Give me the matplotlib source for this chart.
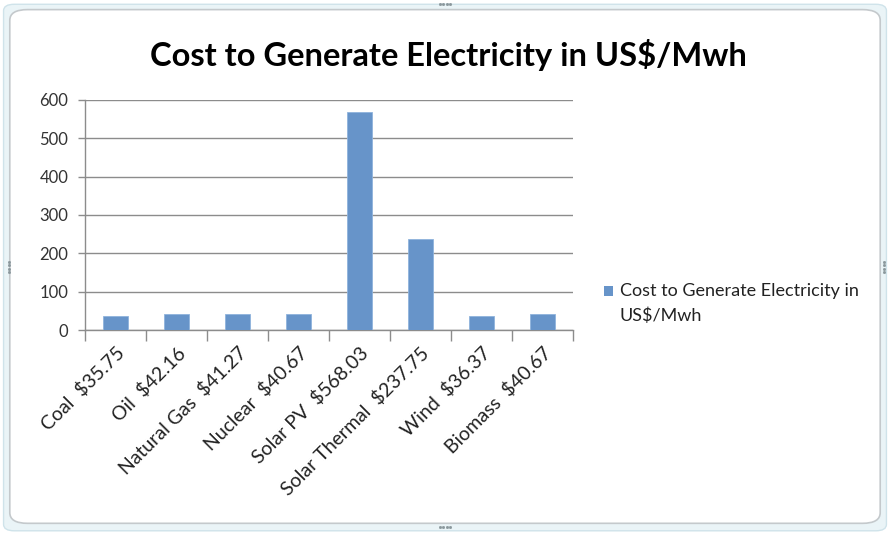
import matplotlib.pyplot as plt
from matplotlib.patches import FancyBboxPatch
from matplotlib.lines import Line2D
import numpy as np

# data
sources = ["Coal", "Oil", "Natural Gas", "Nuclear", "Solar PV", "Solar Thermal", "Wind", "Biomass"]
costs = [35.75, 42.16, 41.27, 40.67, 568.03, 237.75, 36.37, 40.67]
tick_labels = ["Coal  $35.75", "Oil  $42.16", "Natural Gas  $41.27", "Nuclear  $40.67",
               "Solar PV  $568.03", "Solar Thermal  $237.75", "Wind  $36.37", "Biomass  $40.67"]
y_ticks = [0, 100, 200, 300, 400, 500, 600]
series_name = "Cost to Generate Electricity in US$/Mwh"

bar_color = "#6794c9"
grid_color = "#8c8c8c"
text_color = "#222222"
font = ["Lato", "DejaVu Sans"]

fig = plt.figure(figsize=(8.9, 5.34), dpi=100)
fig.patch.set_facecolor("white")

# chart frame (outer light band + inner grey rounded border), behind the axes
outer = FancyBboxPatch((0.004, 0.006), 0.992, 0.986, boxstyle="round,pad=0,rounding_size=0.012",
                       transform=fig.transFigure, facecolor="#eaf4f7", edgecolor="#cfe3ea",
                       linewidth=1.0, zorder=-2)
inner = FancyBboxPatch((0.011, 0.02), 0.978, 0.962, boxstyle="round,pad=0,rounding_size=0.02",
                       transform=fig.transFigure, facecolor="white", edgecolor="#c4c9cc",
                       linewidth=1.2, zorder=-1)
fig.patches.extend([outer, inner])

# resize handle dots
for cx, cy, horiz in [(0.5, 0.993, True), (0.5, 0.013, True), (0.0105, 0.5, False), (0.9935, 0.5, False)]:
    offs = np.array([-1.5, -0.5, 0.5, 1.5])
    if horiz:
        xs, ys = cx + offs * 0.0035, np.full(4, cy)
    else:
        xs, ys = np.full(4, cx), cy + offs * 0.006
    fig.lines.append(Line2D(xs, ys, transform=fig.transFigure, linestyle="none", marker="s",
                            markersize=1.0, color="#8a979c"))

ax = fig.add_axes([0.0955, 0.382, 0.548, 0.431])
x = np.arange(len(sources))
ax.bar(x, costs, width=0.41, color=bar_color, edgecolor="#8fb3dc", linewidth=0.6, zorder=3,
       label=series_name)

ax.set_xlim(-0.5, len(sources) - 0.5)
ax.set_ylim(0, 600)
ax.set_yticks(y_ticks)
ax.yaxis.grid(True, color=grid_color, linewidth=1.0, zorder=0)
ax.set_xticks(np.arange(len(sources) + 1) - 0.5, minor=False)
ax.set_xticklabels([""] * (len(sources) + 1))
ax.set_xticks(x, minor=True)
ax.set_xticklabels(tick_labels, minor=True, rotation=45, ha="right", rotation_mode="anchor",
                   fontsize=14, color=text_color, family=font)
ax.tick_params(axis="x", which="minor", length=0, pad=10)
ax.tick_params(axis="x", which="major", length=8, color=grid_color, width=1.0)
ax.tick_params(axis="y", length=5, color=grid_color, width=1.0, pad=7, labelsize=12,
               labelcolor="#333333")
for lab in ax.get_yticklabels():
    lab.set_family(font)

for side in ["top", "right"]:
    ax.spines[side].set_visible(False)
for side in ["left", "bottom"]:
    ax.spines[side].set_color(grid_color)
    ax.spines[side].set_linewidth(1.0)

fig.text(0.504, 0.897, series_name.replace("US$", "US\\$"), ha="center", va="center",
         fontsize=23.5, fontweight="bold", color="black", family=font)

# legend
fig.patches.append(plt.Rectangle((0.6785, 0.446), 0.0105, 0.0175, transform=fig.transFigure,
                                 facecolor=bar_color, edgecolor="none"))
fig.text(0.6965, 0.4545, "Cost to Generate Electricity in", ha="left", va="center",
         fontsize=13, color=text_color, family=font)
fig.text(0.6965, 0.4085, "US\\$/Mwh", ha="left", va="center",
         fontsize=13, color=text_color, family=font)

fig.savefig("out.png", dpi=100)
